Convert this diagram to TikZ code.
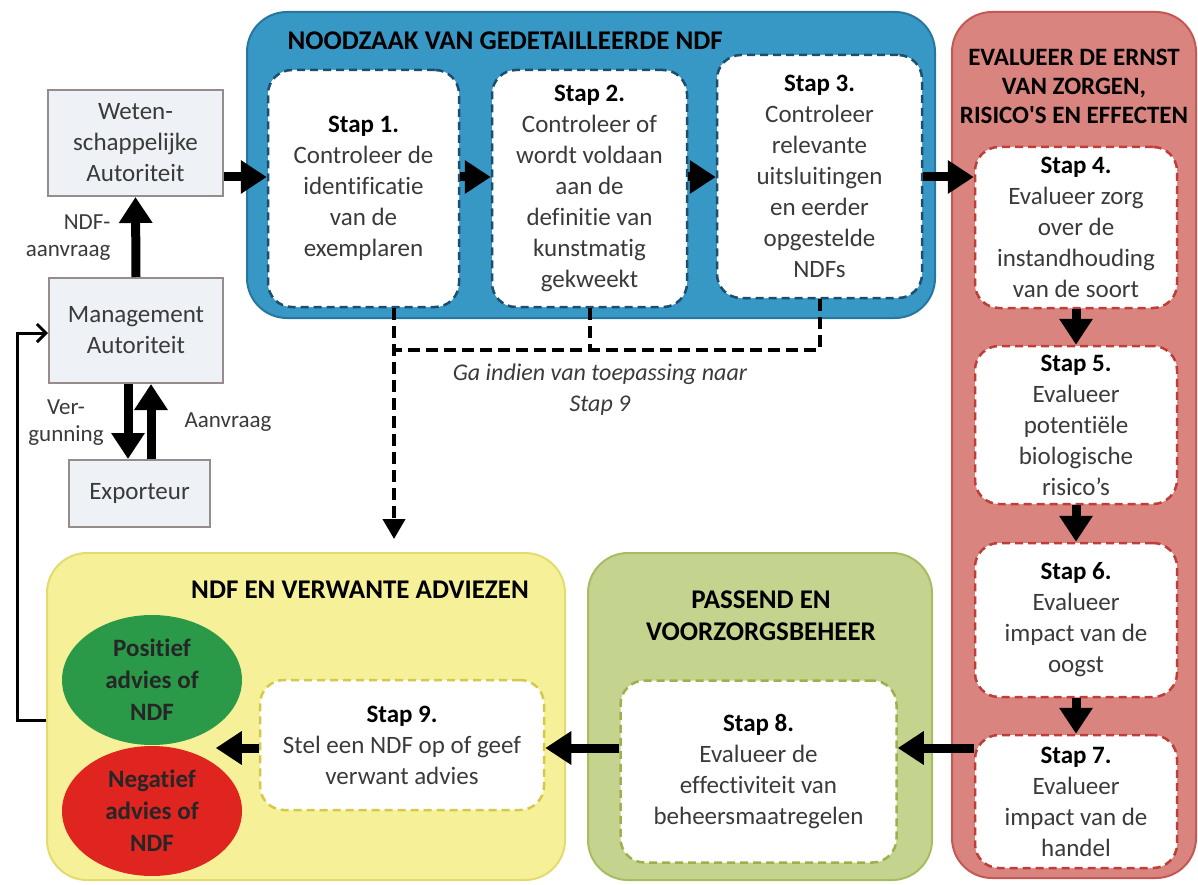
\documentclass[tikz,border=0pt]{standalone}
\usepackage{fontspec}
\setmainfont{Carlito}[Ligatures=NoCommon]
\usetikzlibrary{arrows.meta,positioning,shapes.geometric}

\definecolor{blueFill}{RGB}{56,152,197}
\definecolor{blueEdge}{RGB}{38,118,160}
\definecolor{blueDash}{RGB}{28,78,112}
\definecolor{redFill}{RGB}{218,132,127}
\definecolor{redEdge}{RGB}{196,88,84}
\definecolor{redDash}{RGB}{192,62,58}
\definecolor{yelFill}{RGB}{246,241,152}
\definecolor{yelEdge}{RGB}{228,219,110}
\definecolor{yelDash}{RGB}{214,200,72}
\definecolor{grnFill}{RGB}{196,211,142}
\definecolor{grnEdge}{RGB}{168,188,98}
\definecolor{grnDash}{RGB}{158,176,78}
\definecolor{authFill}{RGB}{238,242,247}
\definecolor{authEdge}{RGB}{150,140,140}
\definecolor{posGreen}{RGB}{42,154,72}
\definecolor{negRed}{RGB}{224,36,32}
\definecolor{ink}{RGB}{58,58,58}

\begin{document}
\begin{tikzpicture}[
    x=1pt, y=-1pt,
    font=\fontsize{25}{31}\selectfont,
    grp/.style={line width=2pt, rounded corners=40pt, inner sep=0pt},
    grpBlue/.style={grp, draw=blueEdge, fill=blueFill},
    grpRed/.style={grp, draw=redEdge, fill=redFill},
    grpYel/.style={grp, draw=yelEdge, fill=yelFill},
    grpGrn/.style={grp, draw=grnEdge, fill=grnFill},
    hdr/.style={font=\fontsize{27}{32}\selectfont\bfseries, align=center},
    stepbox/.style={line width=2.5pt, dash pattern=on 8pt off 5pt, rounded corners=24pt,
      fill=white, text=ink, align=center, inner sep=0pt},
    stepBlue/.style={stepbox, draw=blueDash},   % steps 1-3
    stepRed/.style={stepbox, draw=redDash},     % steps 4-7
    stepGrn/.style={stepbox, draw=grnDash},     % step 8
    stepYel/.style={stepbox, draw=yelDash},     % step 9
    auth/.style={draw=authEdge, line width=2pt, fill=authFill, text=ink, align=center, inner sep=0pt},
    advies/.style={ellipse, inner sep=0pt, minimum width=180pt, minimum height=130pt,
      align=center, font=\fontsize{25}{32}\selectfont\bfseries, text=black!85},
    lbl/.style={font=\fontsize{23}{27}\selectfont, text=ink},
    flow/.style={line width=9pt, -{Triangle[length=26pt,width=32pt]}},
    skip/.style={line width=4pt, dash pattern=on 12pt off 6pt},
    back/.style={line width=3pt, -{Straight Barb[length=9pt,width=18pt]}}
  ]

\useasboundingbox (0,0) rectangle (1198,885);

% --- Groups ---
\node[grpBlue, minimum width=688pt, minimum height=306pt] (noodzaak) at (591,165) {};
\node[grpRed, minimum width=244pt, minimum height=866pt] (ernst) at (1074,445) {};
\node[grpYel, minimum width=518pt, minimum height=327pt] (ndfgrp) at (306,716.5) {};
\node[grpGrn, minimum width=344pt, minimum height=327pt] (beheer) at (760,716.5) {};

\node[hdr, anchor=west] (tNood) at (284,41) {NOODZAAK VAN GEDETAILLEERDE NDF};
\node[hdr, font=\fontsize{25}{29}\selectfont\bfseries] (tErnst) at (1074,86)
  {EVALUEER DE ERNST\\VAN ZORGEN,\\RISICO\textquotesingle S EN EFFECTEN};
\node[hdr] (tAdv) at (360,590) {NDF EN VERWANTE ADVIEZEN};
\node[hdr] (tPas) at (761,616) {PASSEND EN\\VOORZORGSBEHEER};

% --- Authorities ---
\node[auth, minimum width=175pt, minimum height=106pt] (weten) at (135.5,143) {Weten-\\schappelijke\\Autoriteit};
\node[auth, minimum width=174pt, minimum height=105pt] (mgmt) at (136,330.5) {Management\\Autoriteit};
\node[auth, minimum width=141pt, minimum height=67pt] (exp) at (139.5,493.5) {Exporteur};

\node[lbl, align=right, anchor=east] (ndfreq) at (114,238) {NDF-\\aanvraag};
\node[lbl, align=center] (verg) at (66,423) {Ver-\\gunning};
\node[lbl] (aanvr) at (228,422) {Aanvraag};

% --- Steps 1-3 ---
\node[stepBlue, minimum width=191pt, minimum height=237pt] (stap1) at (363.5,188.5)
  {\textbf{\color{black}Stap 1.}\\Controleer de\\identificatie\\van de\\exemplaren};
\node[stepBlue, minimum width=195pt, minimum height=237pt] (stap2) at (589.5,188.5)
  {\textbf{\color{black}Stap 2.}\\Controleer of\\wordt voldaan\\aan de\\definitie van\\kunstmatig\\gekweekt};
\node[stepBlue, minimum width=205pt, minimum height=243pt] (stap3) at (819.5,176.5)
  {\textbf{\color{black}Stap 3.}\\Controleer\\relevante\\uitsluitingen\\en eerder\\opgestelde\\NDFs};

% --- Steps 4-7 ---
\node[stepRed, minimum width=202pt, minimum height=161pt] (stap4) at (1076,227.5)
  {\textbf{\color{black}Stap 4.}\\Evalueer zorg\\over de\\instandhouding\\van de soort};
\node[stepRed, minimum width=202pt, minimum height=158pt] (stap5) at (1076,425)
  {\textbf{\color{black}Stap 5.}\\Evalueer\\potentiële\\biologische\\risico’s};
\node[stepRed, minimum width=202pt, minimum height=154pt] (stap6) at (1076,620)
  {\textbf{\color{black}Stap 6.}\\Evalueer\\impact van de\\oogst};
\node[stepRed, minimum width=202pt, minimum height=133pt] (stap7) at (1076,801.5)
  {\textbf{\color{black}Stap 7.}\\Evalueer\\impact van de\\handel};

% --- Steps 8-9 and advice ---
\node[stepGrn, minimum width=276pt, minimum height=182pt] (stap8) at (758.5,771.5)
  {\textbf{\color{black}Stap 8.}\\Evalueer de\\effectiviteit van\\beheersmaatregelen};
\node[stepYel, minimum width=284pt, minimum height=130pt] (stap9) at (402,745)
  {\textbf{\color{black}Stap 9.}\\Stel een NDF op of geef\\verwant advies};

\node[advies, fill=posGreen] (pos) at (152,680) {Positief\\advies of\\NDF};
\node[advies, fill=negRed] (neg) at (152,811) {Negatief\\advies of\\NDF};

% --- Connectors ---
\coordinate (row) at (0,177);
\coordinate (low) at (0,748);
\draw[flow] (weten.east |- row) -- (stap1.west |- row);
\draw[flow] (stap1.east |- row) -- (stap2.west |- row);
\draw[flow] (stap2.east |- row) -- (stap3.west |- row);
\draw[flow] (stap3.east |- row) -- (stap4.west |- row);
\draw[flow] (stap4) -- (stap5);
\draw[flow] (stap5) -- (stap6);
\draw[flow] (stap6) -- (stap7);
\draw[flow] (stap7.west |- low) -- (stap8.east |- low);
\draw[flow] (stap8.west |- low) -- (stap9.east |- low);
\draw[flow] (stap9.west |- low) -- (neg.north east |- low);

\draw[flow] (mgmt.north) -- (weten.south);
\draw[flow] ([xshift=-8pt]mgmt.south) -- ([xshift=-8pt]mgmt.south |- exp.north);
\draw[flow] ([xshift=15pt]mgmt.south |- exp.north) -- ([xshift=15pt]mgmt.south);

\coordinate (fbstart) at (0,720);
\coordinate (fb) at (17,333);
\draw[back] (ndfgrp.west |- fbstart) -| (fb) -- (mgmt.west |- fb);

% --- Skip to step 9 ---
\coordinate (jn) at (394,350);
\draw[skip] (stap3.south) |- (jn);
\draw[skip] (stap2.south) -- (stap2.south |- jn);
\draw[skip, -{Triangle[length=20pt,width=22pt]}] (stap1.south -| jn) -- (jn) -- ([yshift=13pt]ndfgrp.north -| jn);
\node[font=\fontsize{24}{31}\selectfont\itshape, text=ink, align=center] (naar9) at (600,390)
  {Ga indien van toepassing naar\\Stap 9};

\end{tikzpicture}
\end{document}
